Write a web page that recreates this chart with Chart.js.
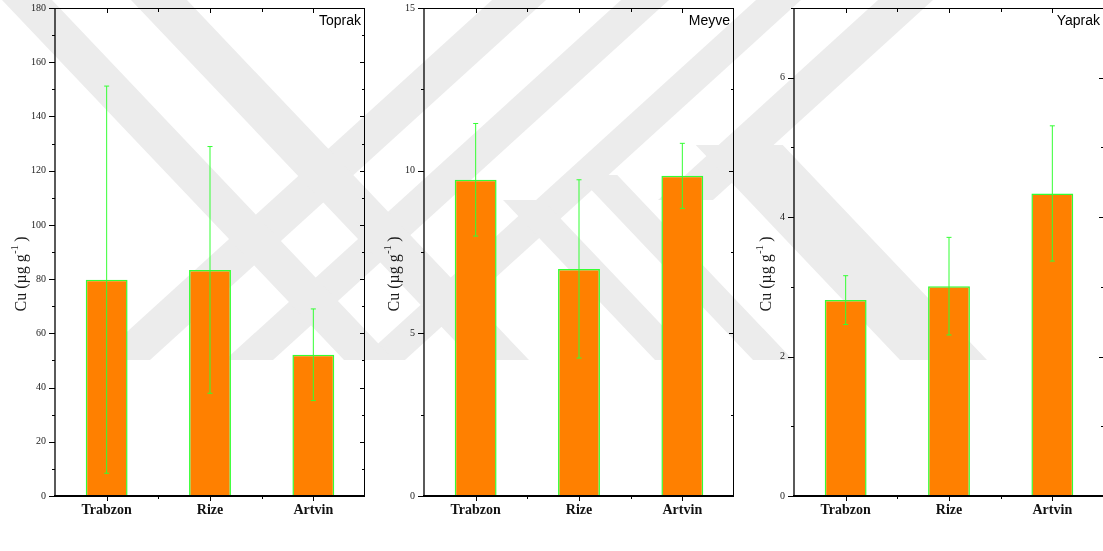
<!DOCTYPE html>
<html>
<head>
<meta charset="utf-8">
<script src="https://cdn.jsdelivr.net/npm/chart.js@4.4.1/dist/chart.umd.min.js"></script>
<style>
html, body { margin: 0; padding: 0; background: #fff; width: 1103px; height: 551px; overflow: hidden; }
#wm { position: absolute; left: 0; top: 0; }
canvas { position: absolute; top: 0; }
</style>
</head>
<body>
<svg id="wm" width="1103" height="551"></svg>
<canvas id="c1" width="373" height="551" style="left:0px"></canvas>
<canvas id="c2" width="373" height="551" style="left:369px"></canvas>
<canvas id="c3" width="373" height="551" style="left:739px"></canvas>
<script>
const sites = ['Trabzon', 'Rize', 'Artvin'];

const toprakMean = [79.8, 83.4, 52.1];
const toprakSd = [71.4, 45.5, 16.9];
const meyveMean = [9.72, 6.98, 9.84];
const meyveSd = [1.73, 2.74, 1.0];
const yaprakMean = [2.81, 3.01, 4.34];
const yaprakSd = [0.35, 0.70, 0.97];

const toprakTicks = [0, 20, 40, 60, 80, 100, 120, 140, 160, 180];
const toprakMinor = [10, 30, 50, 70, 90, 110, 130, 150, 170];
const meyveTicks = [0, 5, 10, 15];
const meyveMinor = [2.5, 7.5, 12.5];
const yaprakTicks = [0, 2, 4, 6];
const yaprakMinor = [1, 3, 5, 7];

// faint thesis watermark behind the panels (diagonal bands)
function drawWatermark() {
    const svg = document.getElementById('wm');
    const slash = [[96, 54, 0, 360], [225, 48, 0, 360], [360, 45, 0, 360], [482, 55, 0, 200]];
    const back = [[2, 50, 0, 360], [131, 56, 0, 360], [313, 40, 200, 360], [411, 40, 175, 360], [558, 87, 145, 360]];
    const polys = [];
    slash.forEach(([xb, w, yt, yb]) => {
        const l = y => xb + 1.1 * (360 - y);
        polys.push([[l(yt), yt], [l(yt) + w, yt], [l(yb) + w, yb], [l(yb), yb]]);
    });
    back.forEach(([x0, w, yt, yb]) => {
        const l = y => x0 + 0.95 * y;
        polys.push([[l(yt), yt], [l(yt) + w, yt], [l(yb) + w, yb], [l(yb), yb]]);
    });
    svg.innerHTML = polys.map(p =>
        '<polygon fill="#ececec" points="' + p.map(q => q.join(',')).join(' ') + '"/>').join('');
}
drawWatermark();

const errorBars = {
    id: 'errorBars',
    afterDatasetsDraw(chart, args, opts) {
        const ctx = chart.ctx;
        const y = chart.scales.y;
        const meta = chart.getDatasetMeta(0);
        ctx.save();
        ctx.strokeStyle = '#33ff33';
        ctx.lineWidth = 1;
        meta.data.forEach((bar, i) => {
            const m = chart.data.datasets[0].data[i];
            const sd = opts.sd[i];
            const top = y.getPixelForValue(m + sd);
            const bot = y.getPixelForValue(m - sd);
            ctx.beginPath();
            ctx.moveTo(bar.x, top); ctx.lineTo(bar.x, bot);
            ctx.moveTo(bar.x - 2.5, top); ctx.lineTo(bar.x + 2.5, top);
            ctx.moveTo(bar.x - 2.5, bot); ctx.lineTo(bar.x + 2.5, bot);
            ctx.stroke();
        });
        ctx.restore();
    }
};

const originFrame = {
    id: 'originFrame',
    afterDraw(chart, args, opts) {
        const { ctx, chartArea: a } = chart;
        const x = chart.scales.x, y = chart.scales.y;
        ctx.save();
        ctx.strokeStyle = '#000';
        // ticks
        ctx.lineWidth = 1;
        ctx.beginPath();
        opts.major.forEach(v => {
            const p = Math.round(y.getPixelForValue(v)) + 0.5;
            ctx.moveTo(a.left - 6, p); ctx.lineTo(a.left, p);
            ctx.moveTo(a.right - 5, p); ctx.lineTo(a.right, p);
        });
        opts.minor.forEach(v => {
            const p = Math.round(y.getPixelForValue(v)) + 0.5;
            ctx.moveTo(a.left - 3, p); ctx.lineTo(a.left, p);
            ctx.moveTo(a.right - 3, p); ctx.lineTo(a.right, p);
        });
        const n = chart.data.labels.length;
        for (let i = 0; i < n; i++) {
            const c = Math.round(x.getPixelForValue(i)) + 0.5;
            ctx.moveTo(c, a.bottom); ctx.lineTo(c, a.bottom + 5);
            ctx.moveTo(c, a.top); ctx.lineTo(c, a.top + 5);
            if (i < n - 1) {
                const b = Math.round(x.getPixelForValue(i + 0.5)) + 0.5;
                ctx.moveTo(b, a.bottom); ctx.lineTo(b, a.bottom + 3);
                ctx.moveTo(b, a.top); ctx.lineTo(b, a.top + 4);
            }
        }
        ctx.stroke();
        // frame
        ctx.lineWidth = 1;
        ctx.beginPath();
        ctx.moveTo(a.left, a.top + 0.5); ctx.lineTo(a.right, a.top + 0.5);
        ctx.moveTo(a.right - 0.5, a.top); ctx.lineTo(a.right - 0.5, a.bottom);
        ctx.stroke();
        ctx.lineWidth = 1.3;
        ctx.beginPath();
        ctx.moveTo(a.left, a.top); ctx.lineTo(a.left, a.bottom + 1);
        ctx.stroke();
        ctx.lineWidth = 2;
        ctx.beginPath();
        ctx.moveTo(a.left - 1, a.bottom); ctx.lineTo(a.right, a.bottom);
        ctx.stroke();

        // panel name
        ctx.fillStyle = '#000';
        ctx.font = '14px "Liberation Sans", Arial, sans-serif';
        ctx.textAlign = 'right';
        ctx.textBaseline = 'middle';
        ctx.fillText(opts.name, a.right - 4, a.top + 13);

        // y axis title: Cu (µg g-1 )
        const big = '16px "Liberation Serif", "Times New Roman", serif';
        const small = '10px "Liberation Serif", "Times New Roman", serif';
        const p1 = 'Cu (\u00b5g g', p2 = '-1', p3 = ' )';
        ctx.font = big; const w1 = ctx.measureText(p1).width, w3 = ctx.measureText(p3).width;
        ctx.font = small; const w2 = ctx.measureText(p2).width;
        const total = w1 + w2 + w3;
        ctx.translate(a.left - opts.titleOffset, a.top + (a.bottom - a.top) * 0.545);
        ctx.rotate(-Math.PI / 2);
        ctx.fillStyle = '#1a1a1a';
        ctx.textAlign = 'left';
        ctx.textBaseline = 'middle';
        ctx.font = big; ctx.fillText(p1, -total / 2, 0);
        ctx.font = small; ctx.fillText(p2, -total / 2 + w1 + 0.5, -6);
        ctx.font = big; ctx.fillText(p3, -total / 2 + w1 + w2, 0);
        ctx.restore();
    }
};

function makePanel(canvasId, name, means, sds, max, major, minor, titleOffset) {
    return new Chart(document.getElementById(canvasId), {
        type: 'bar',
        data: {
            labels: sites,
            datasets: [{
                data: means,
                backgroundColor: '#ff8000',
                borderColor: '#33ff33',
                borderWidth: 1.5,
                barPercentage: 0.405,
                categoryPercentage: 1
            }]
        },
        options: {
            responsive: false,
            animation: false,
            devicePixelRatio: 1,
            layout: { padding: { left: 0, right: 8, top: 8, bottom: 0 } },
            scales: {
                x: {
                    grid: { display: false, drawTicks: false },
                    border: { display: false },
                    ticks: {
                        color: '#111',
                        padding: 6,
                        font: { family: '"Liberation Serif", "Times New Roman", serif', size: 14, weight: 'bold' }
                    },
                    afterFit(s) { s.height = 55; s.paddingLeft = 0; s.paddingRight = 0; }
                },
                y: {
                    min: 0,
                    max: max,
                    grid: { display: false, drawTicks: false },
                    border: { display: false },
                    afterBuildTicks(s) { s.ticks = major.map(v => ({ value: v })); },
                    ticks: {
                        color: '#222',
                        padding: 9,
                        font: { family: '"Liberation Serif", "Times New Roman", serif', size: 10 }
                    },
                    afterFit(s) { s.width = 55; s.paddingTop = 0; s.paddingBottom = 0; }
                }
            },
            plugins: {
                legend: { display: false },
                tooltip: { enabled: false },
                errorBars: { sd: sds },
                originFrame: { name: name, major: major, minor: minor, titleOffset: titleOffset }
            }
        },
        plugins: [errorBars, originFrame]
    });
}

makePanel('c1', 'Toprak', toprakMean, toprakSd, 180, toprakTicks, toprakMinor, 33.5);
makePanel('c2', 'Meyve', meyveMean, meyveSd, 15, meyveTicks, meyveMinor, 29.5);
makePanel('c3', 'Yaprak', yaprakMean, yaprakSd, 7, yaprakTicks, yaprakMinor, 27.5);
</script>
</body>
</html>
